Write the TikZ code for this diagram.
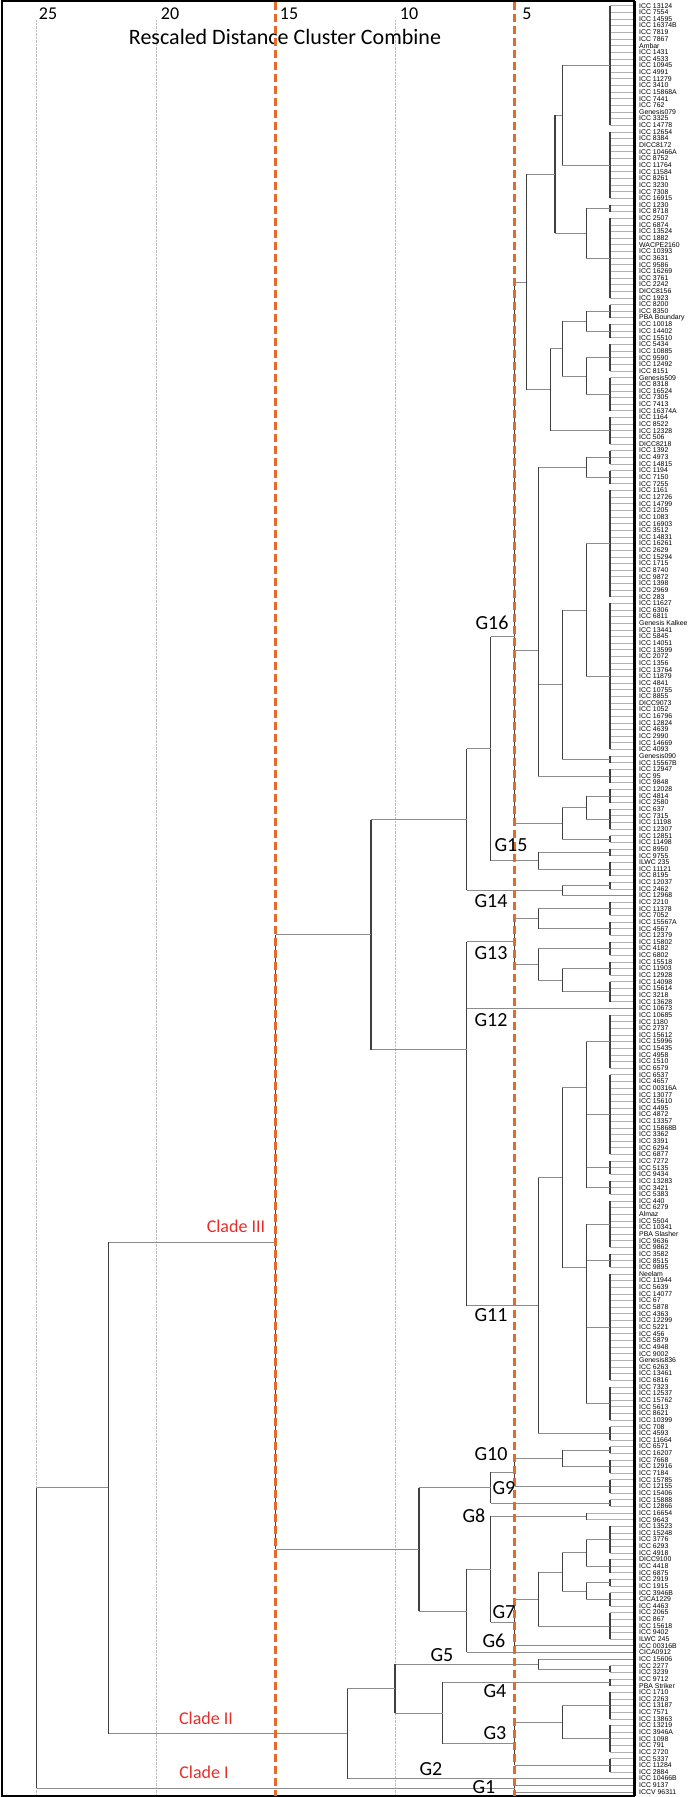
\documentclass[tikz,border=0pt]{standalone}
\usepackage{fontspec}
\setmainfont{Liberation Sans}
\newfontfamily\notefont{Carlito}
\usetikzlibrary{positioning}

\definecolor{cladered}{RGB}{232,45,40}
\definecolor{cutorange}{RGB}{228,108,42}

% leaf row i -> y (px)
\newcommand{\ly}[1]{5.7+6.64*(#1)}
% vertical join at x from y1 to y2
\newcommand{\vj}[3]{\draw [vjoin] (#1,{#2}) -- (#1,{#3});}
% horizontal link from x1 to x2 at y
\newcommand{\hj}[3]{\draw [hjoin] (#1,{#3}) -- (#2,{#3});}
% cluster of leaves #1..#2 joined at x=#3
\newcommand{\tip}[3]{%
  \foreach \k in {#1,...,#2}{\draw [leafline] (#3,{\ly{\k}}) -- (633,{\ly{\k}});}
  \draw [vjoin] (#3,{\ly{#1}}) -- (#3,{\ly{#2}});}
% single leaf #1 hanging from x=#2
\newcommand{\solo}[2]{\draw [hjoin] (#2,{\ly{#1}}) -- (633,{\ly{#1}});}

\tikzset{
  leaf/.style={font=\fontsize{6.9}{7}\selectfont, anchor=west, inner sep=0pt},
  tick/.style={font=\notefont\fontsize{18}{18}\selectfont, inner sep=0pt},
  grp/.style={font=\notefont\fontsize{20}{20}\selectfont, inner sep=0pt},
  clade/.style={font=\notefont\fontsize{18}{18}\selectfont, text=cladered, inner sep=0pt},
  vjoin/.style={black!75, line width=1.3pt},
  hjoin/.style={black!45, line width=0.7pt},
  leafline/.style={black!30, line width=0.6pt},
  cut/.style={draw=cutorange, line width=2.1pt, dash pattern=on 8pt off 4pt},
  grid/.style={black!25, line width=0.4pt, densely dotted}
}

\begin{document}
\begin{tikzpicture}[x=1pt,y=-1pt]
\useasboundingbox (0,0) rectangle (688,1797);
% scale
\draw [grid] (36.5,20) -- (36.5,1795);
\draw [grid] (156,20) -- (156,1795);
\draw [grid] (395,20) -- (395,1795);
\node (t25) at (48,14) [tick] {25};
\node (t20) at (170,14) [tick] {20};
\node (t15) at (289,14) [tick] {15};
\node (t10) at (409,14) [tick] {10};
\node (t5) at (527,14) [tick] {5};
\node (title) at (285,37) [font=\notefont\fontsize{22}{22}\selectfont, inner sep=0pt] {Rescaled Distance Cluster Combine};
% leaf labels
\foreach \lab [count=\i from 0] in {ICC 13124,ICC 7554,ICC 14595,ICC 16374B,ICC 7819,ICC 7867,Ambar,ICC 1431,ICC 4533,ICC 10945,ICC 4991,ICC 11279,ICC 3410,ICC 15868A,ICC 7441,ICC 762,Genesis079,ICC 3325,ICC 14778,ICC 12654,ICC 8384,DICC8172,ICC 10466A,ICC 8752,ICC 11764,ICC 11584,ICC 8261,ICC 3230,ICC 7308,ICC 16915,ICC 1230,ICC 8718,ICC 2507,ICC 6874,ICC 13524,ICC 1882,WACPE2160,ICC 10393,ICC 3631,ICC 9586,ICC 16269,ICC 3761,ICC 2242,DICC8156,ICC 1923,ICC 8200,ICC 8350,PBA Boundary,ICC 10018,ICC 14402,ICC 15510,ICC 5434,ICC 10885,ICC 9590,ICC 12492,ICC 8151,Genesis509,ICC 8318,ICC 16524,ICC 7305,ICC 7413,ICC 16374A,ICC 1164,ICC 8522,ICC 12328,ICC 506,DICC8218,ICC 1392,ICC 4973,ICC 14815,ICC 1194,ICC 7150,ICC 7255,ICC 1161,ICC 12726,ICC 14799,ICC 1205,ICC 1083,ICC 16903,ICC 3512,ICC 14831,ICC 16261,ICC 2629,ICC 15294,ICC 1715,ICC 8740,ICC 9872,ICC 1398,ICC 2969,ICC 283,ICC 11627,ICC 6306,ICC 6811,Genesis Kalkee,ICC 13441,ICC 5845,ICC 14051,ICC 13599,ICC 2072,ICC 1356,ICC 13764,ICC 11879,ICC 4841,ICC 10755,ICC 8855,DICC9073,ICC 1052,ICC 16796,ICC 12824,ICC 4639,ICC 2990,ICC 14669,ICC 4093,Genesis090,ICC 15567B,ICC 12947,ICC 95,ICC 9848,ICC 12028,ICC 4814,ICC 2580,ICC 637,ICC 7315,ICC 11198,ICC 12307,ICC 12851,ICC 11498,ICC 8950,ICC 9755,ILWC 235,ICC 11121,ICC 8195,ICC 12037,ICC 2462,ICC 12968,ICC 2210,ICC 11378,ICC 7052,ICC 15567A,ICC 4567,ICC 12379,ICC 15802,ICC 4182,ICC 6802,ICC 15518,ICC 11903,ICC 12928,ICC 14098,ICC 15614,ICC 3218,ICC 13628,ICC 10673,ICC 10685,ICC 1180,ICC 2737,ICC 15612,ICC 15996,ICC 15435,ICC 4958,ICC 1510,ICC 6579,ICC 6537,ICC 4657,ICC 00316A,ICC 13077,ICC 15610,ICC 4495,ICC 4872,ICC 13357,ICC 15868B,ICC 3362,ICC 3391,ICC 6294,ICC 6877,ICC 7272,ICC 5135,ICC 9434,ICC 13283,ICC 3421,ICC 5383,ICC 440,ICC 6279,Almaz,ICC 5504,ICC 10341,PBA Slasher,ICC 9636,ICC 9862,ICC 3582,ICC 8515,ICC 9895,Neelam,ICC 11944,ICC 5639,ICC 14077,ICC 67,ICC 5878,ICC 4363,ICC 12299,ICC 5221,ICC 456,ICC 5879,ICC 4948,ICC 9002,Genesis836,ICC 6263,ICC 13461,ICC 6816,ICC 7323,ICC 12537,ICC 15762,ICC 5613,ICC 8621,ICC 10399,ICC 708,ICC 4593,ICC 11664,ICC 6571,ICC 16207,ICC 7668,ICC 12916,ICC 7184,ICC 15785,ICC 12155,ICC 15406,ICC 15888,ICC 12866,ICC 16654,ICC 9643,ICC 13523,ICC 15248,ICC 3776,ICC 6293,ICC 4918,DICC9100,ICC 4418,ICC 6875,ICC 2919,ICC 1915,ICC 3946B,CICA1229,ICC 4463,ICC 2065,ICC 867,ICC 15618,ICC 9402,ILWC 245,ICC 00316B,CICA0912,ICC 15606,ICC 2277,ICC 3239,ICC 9712,PBA Striker,ICC 1710,ICC 2263,ICC 13187,ICC 7571,ICC 13863,ICC 13219,ICC 3946A,ICC 1098,ICC 791,ICC 2720,ICC 5337,ICC 11284,ICC 2884,ICC 10466B,ICC 9137,ICCV 96311}{
  \node (l\i) at (639,{\ly{\i}}) [leaf] {\lab};
}
% ---- G16, top block
\tip{0}{18}{610.1} \tip{19}{29}{610.1}
\hj{562.3}{610.1}{\ly{9}} \hj{562.3}{610.1}{\ly{24}}
\vj{562.3}{\ly{9}}{\ly{24}}
\tip{30}{31}{610.1} \tip{32}{44}{610.1}
\hj{586.2}{610.1}{\ly{30.5}} \hj{586.2}{610.1}{\ly{38}}
\vj{586.2}{\ly{30.5}}{\ly{38}}
\hj{555}{562.3}{115.3} \hj{555}{586.2}{233.1}
\vj{555}{115.3}{233.1}
\tip{45}{47}{610.1} \tip{48}{50}{610.1}
\hj{586.2}{610.1}{\ly{46}} \hj{586.2}{610.1}{\ly{49}}
\vj{586.2}{\ly{46}}{\ly{49}}
\tip{51}{55}{610.1} \tip{56}{61}{610.1}
\hj{586.2}{610.1}{\ly{53}} \hj{586.2}{610.1}{\ly{58.5}}
\vj{586.2}{\ly{53}}{\ly{58.5}}
\hj{562.3}{586.2}{321.1} \hj{562.3}{586.2}{375.9}
\vj{562.3}{321.1}{375.9}
\tip{62}{66}{610.1}
\hj{550.4}{562.3}{348.5} \hj{550.4}{610.1}{\ly{64}}
\vj{550.4}{348.5}{\ly{64}}
\hj{526.4}{555}{174.2} \hj{526.4}{550.4}{389.6}
\vj{526.4}{174.2}{389.6}
\hj{514.5}{526.4}{281.9}
% ---- G16, middle block
\tip{67}{69}{610.1} \tip{70}{72}{610.1}
\hj{586.2}{610.1}{\ly{68}} \hj{586.2}{610.1}{\ly{71}}
\vj{586.2}{\ly{68}}{\ly{71}}
\tip{73}{89}{610.1} \tip{90}{112}{610.1}
\hj{586.2}{610.1}{\ly{81}} \hj{586.2}{610.1}{\ly{101}}
\vj{586.2}{\ly{81}}{\ly{101}}
\tip{113}{114}{610.1} \hj{562.3}{610.1}{\ly{113.5}}
\hj{562.3}{586.2}{609.9}
\vj{562.3}{609.9}{\ly{113.5}}
\tip{115}{117}{610.1}
\hj{538.4}{586.2}{467.2} \hj{538.4}{562.3}{684.6} \hj{538.4}{610.1}{\ly{116}}
\vj{538.4}{467.2}{\ly{116}}
\hj{514.5}{538.4}{650}
% ---- G16, lower block
\tip{118}{120}{610.1} \tip{121}{124}{610.1}
\hj{586.2}{610.1}{\ly{119}} \hj{586.2}{610.1}{\ly{122.5}}
\vj{586.2}{\ly{119}}{\ly{122.5}}
\tip{125}{126}{610.1} \hj{562.3}{610.1}{\ly{125.5}}
\hj{562.3}{586.2}{807.5}
\vj{562.3}{807.5}{\ly{125.5}}
\hj{514.5}{562.3}{823.2}
\vj{514.5}{281.9}{823.2}
\hj{490.6}{514.5}{636.8}
% ---- G15
\tip{127}{128}{610.1} \tip{129}{131}{610.1}
\hj{538.4}{610.1}{\ly{127.5}} \hj{538.4}{610.1}{\ly{130}}
\vj{538.4}{\ly{127.5}}{\ly{130}}
\hj{490.6}{538.4}{860.6}
\vj{490.6}{636.8}{860.6}
\hj{466.7}{490.6}{748.7}
% ---- G14
\tip{132}{133}{610.1} \hj{562.3}{610.1}{\ly{132.5}}
\solo{134}{562.3}
\vj{562.3}{\ly{132.5}}{\ly{134}}
\hj{466.7}{562.3}{\ly{133.25}}
\vj{466.7}{748.7}{\ly{133.25}}
\hj{371.1}{466.7}{819.6}
% ---- G13
\tip{135}{137}{610.1} \tip{138}{140}{610.1}
\hj{538.4}{610.1}{\ly{136}} \hj{538.4}{610.1}{\ly{139}}
\vj{538.4}{\ly{136}}{\ly{139}}
\tip{141}{143}{610.1} \tip{144}{146}{610.1} \tip{147}{150}{610.1}
\hj{538.4}{610.1}{\ly{142}}
\hj{562.3}{610.1}{\ly{145}} \hj{562.3}{610.1}{\ly{148.5}}
\vj{562.3}{\ly{145}}{\ly{148.5}}
\hj{538.4}{562.3}{980.1} \vj{538.4}{\ly{142}}{980.1}
\hj{514.5}{538.4}{918.7} \hj{514.5}{538.4}{964.35}
\vj{514.5}{918.7}{964.35}
\hj{466.7}{514.5}{941.5}
% ---- G12
\solo{151}{466.7}
% ---- G11
\tip{152}{160}{610.1} \tip{161}{173}{610.1} \tip{174}{176}{610.1} \tip{177}{179}{610.1}
\hj{586.2}{610.1}{\ly{156}} \hj{586.2}{610.1}{\ly{167}}
\hj{586.2}{610.1}{\ly{175}} \hj{586.2}{610.1}{\ly{178}}
\vj{586.2}{\ly{156}}{\ly{178}}
\tip{180}{187}{610.1} \tip{188}{190}{610.1} \tip{191}{207}{610.1} \tip{208}{213}{610.1}
\hj{586.2}{610.1}{\ly{183.5}} \hj{586.2}{610.1}{\ly{189}}
\hj{586.2}{610.1}{\ly{199}} \hj{586.2}{610.1}{\ly{210.5}}
\vj{586.2}{\ly{183.5}}{\ly{210.5}}
\hj{562.3}{586.2}{1087.7} \hj{562.3}{586.2}{1267.7}
\vj{562.3}{1087.7}{1267.7}
\tip{214}{216}{610.1} \hj{538.4}{610.1}{\ly{215}}
\hj{538.4}{562.3}{1177.7}
\vj{538.4}{1177.7}{\ly{215}}
\hj{466.7}{538.4}{1305.5}
\vj{466.7}{941.5}{1305.5}
\hj{371.1}{466.7}{1049.5}
\vj{371.1}{819.6}{1049.5}
\hj{275.5}{371.1}{934.5}
% ---- G10, G9
\tip{217}{218}{610.1} \tip{219}{221}{610.1}
\hj{562.3}{610.1}{\ly{217.5}} \hj{562.3}{610.1}{\ly{220}}
\vj{562.3}{\ly{217.5}}{\ly{220}}
\hj{514.5}{562.3}{1458.2}
\tip{222}{224}{610.1} \hj{514.5}{610.1}{\ly{223}}
\vj{514.5}{1458.2}{\ly{223}}
\hj{490.6}{514.5}{1472.3}
\tip{225}{226}{610.1} \hj{490.6}{610.1}{\ly{225.5}}
\vj{490.6}{1472.3}{\ly{225.5}}
\hj{418.9}{490.6}{1487.7}
% ---- G8, G7, G6
\tip{227}{228}{586.2} \hj{490.6}{586.2}{\ly{227.5}}
\tip{229}{233}{610.1} \tip{234}{236}{610.1}
\hj{586.2}{610.1}{\ly{231}} \hj{586.2}{610.1}{\ly{235}}
\vj{586.2}{\ly{231}}{\ly{235}}
\tip{237}{238}{610.1} \tip{239}{241}{610.1}
\hj{586.2}{610.1}{\ly{237.5}} \hj{586.2}{610.1}{\ly{240}}
\vj{586.2}{\ly{237.5}}{\ly{240}}
\hj{562.3}{586.2}{1552.8} \hj{562.3}{586.2}{1591}
\vj{562.3}{1552.8}{1591}
\tip{242}{246}{610.1} \hj{538.4}{610.1}{\ly{244}}
\hj{538.4}{562.3}{1571.9}
\vj{538.4}{1571.9}{\ly{244}}
\hj{514.5}{538.4}{1598.9}
\solo{247}{514.5}
\vj{514.5}{1598.9}{\ly{247}}
\hj{490.6}{514.5}{1622.35}
\vj{490.6}{\ly{227.5}}{1622.35}
\hj{466.7}{490.6}{1569.3}
\solo{248}{466.7}
\vj{466.7}{1569.3}{\ly{248}}
\hj{418.9}{466.7}{1610.9}
\vj{418.9}{1487.7}{1610.9}
\hj{275.5}{418.9}{1549.3}
% ---- Clade III node
\vj{275.5}{934.5}{1549.3}
\hj{108.2}{275.5}{1242}
% ---- Clade II
\solo{249}{538.4}
\tip{250}{251}{610.1} \hj{538.4}{610.1}{\ly{250.5}}
\vj{538.4}{\ly{249}}{\ly{250.5}}
\hj{395}{538.4}{1664}
\tip{252}{253}{610.1} \hj{442.8}{610.1}{\ly{252.5}}
\tip{254}{258}{610.1} \tip{259}{263}{610.1}
\hj{562.3}{610.1}{\ly{256}} \hj{562.3}{610.1}{\ly{261}}
\vj{562.3}{\ly{256}}{\ly{261}}
\hj{514.5}{562.3}{1722.1}
\tip{264}{266}{610.1} \hj{514.5}{610.1}{\ly{265}}
\vj{514.5}{1722.1}{\ly{265}}
\hj{442.8}{514.5}{1743.7}
\vj{442.8}{\ly{252.5}}{1743.7}
\hj{395}{442.8}{1713}
\vj{395}{1664}{1713}
\hj{347.2}{395}{1688.5}
\solo{267}{347.2}
\vj{347.2}{1688.5}{\ly{267}}
\hj{108.2}{347.2}{1733.55}
\vj{108.2}{1242}{1733.55}
\hj{36.5}{108.2}{1487.8}
% ---- Clade I and root
\solo{268}{514.5} \solo{269}{514.5}
\vj{514.5}{\ly{268}}{\ly{269}}
\hj{36.5}{514.5}{1788.45}
\vj{36.5}{1487.8}{1788.45}
% frame
\draw [line width=2.2pt] (2,1) rectangle (634,1796);
\draw [line width=3pt] (634,1) -- (634,1796);
% cut lines
\draw [cut] (275.5,2) -- (275.5,1796);
\draw [cut] (514.5,2) -- (514.5,1796);
% group labels
\node (g16) at (492,623) [grp] {G16};
\node (g15) at (511,845) [grp] {G15};
\node (g14) at (491,901) [grp] {G14};
\node (g13) at (491,953) [grp] {G13};
\node (g12) at (491,1020) [grp] {G12};
\node (g11) at (491,1315) [grp] {G11};
\node (g10) at (491,1454) [grp] {G10};
\node (g9) at (504,1488) [grp] {G9};
\node (g8) at (474,1516) [grp] {G8};
\node (g7) at (504,1612) [grp] {G7};
\node (g6) at (494,1641) [grp] {G6};
\node (g5) at (442,1655) [grp] {G5};
\node (g4) at (495,1691) [grp] {G4};
\node (g3) at (495,1733) [grp] {G3};
\node (g2) at (431,1769) [grp] {G2};
\node (g1) at (484,1787) [grp] {G1};
\node (c3) at (236,1226) [clade] {Clade III};
\node (c2) at (206,1718) [clade] {Clade II};
\node (c1) at (204,1772) [clade] {Clade I};
\end{tikzpicture}
\end{document}
